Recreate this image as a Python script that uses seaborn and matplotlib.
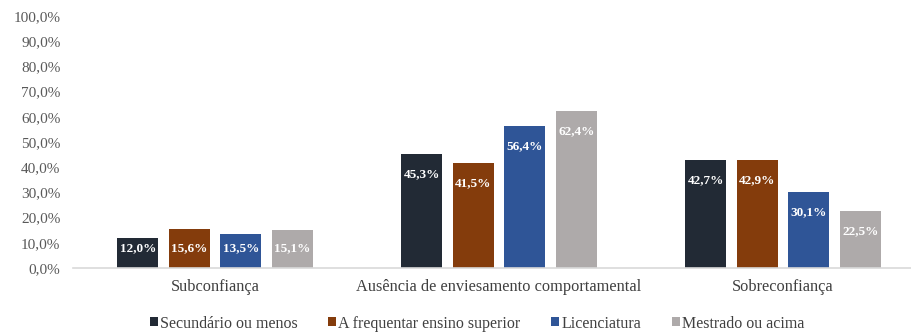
import matplotlib
matplotlib.use("Agg")
import matplotlib.pyplot as plt
from matplotlib.patches import Patch
import seaborn as sns
import pandas as pd

categorias = ["Subconfiança", "Ausência de enviesamento comportamental", "Sobreconfiança"]
grupos = ["Secundário ou menos", "A frequentar ensino superior", "Licenciatura", "Mestrado ou acima"]
secundario = [12.0, 45.3, 42.7]
frequentar = [15.6, 41.5, 42.9]
licenciatura = [13.5, 56.4, 30.1]
mestrado = [15.1, 62.4, 22.5]
cores = ["#222a35", "#843c0c", "#2f5597", "#aeaaaa"]
yticks = [0, 10, 20, 30, 40, 50, 60, 70, 80, 90, 100]

series = [secundario, frequentar, licenciatura, mestrado]
df = pd.DataFrame(
    [(c, g, v) for g, vals in zip(grupos, series) for c, v in zip(categorias, vals)],
    columns=["categoria", "grupo", "valor"],
)

sns.set_theme(style="white")
plt.rcParams["font.family"] = ["Liberation Serif", "DejaVu Serif"]
serif = ["Liberation Serif", "DejaVu Serif"]

fig = plt.figure(figsize=(9.12, 3.36), dpi=100)
ax = fig.add_axes([73 / 912, 68 / 336, 852 / 912, 252 / 336])

sns.barplot(data=df, x="categoria", y="valor", hue="grupo", order=categorias,
            hue_order=grupos, palette=cores, saturation=1, width=0.725, gap=0.2,
            edgecolor="none", ax=ax, legend=False)

ax.set_xlim(-0.5, 2.5)
ax.set_ylim(0, 100)
ax.set_yticks(yticks)
ax.set_yticklabels([f"{t:.1f}%".replace(".", ",") for t in yticks],
                   color="#595959", fontsize=11, family=serif)
ax.tick_params(axis="y", length=0, pad=9)
ax.tick_params(axis="x", which="major", length=0, pad=8, labelsize=11.75, labelcolor="#404040")
for lbl in ax.get_xticklabels():
    lbl.set_family(serif)
ax.set_xticks([-0.5, 0.5, 1.5], minor=True)
ax.tick_params(axis="x", which="minor", length=4, color="#d9d9d9", width=1)
ax.set_xlabel("")
ax.set_ylabel("")
for s in ["top", "right", "left"]:
    ax.spines[s].set_visible(False)
ax.spines["bottom"].set_color("#d9d9d9")
ax.spines["bottom"].set_linewidth(1.2)
ax.grid(False)

# value labels inside the top of each bar
for cont, vals in zip(ax.containers, series):
    for bar, v in zip(cont, vals):
        y = max(v - 7.9, 7.9)
        ax.text(bar.get_x() + bar.get_width() / 2, y, f"{v:.1f}%".replace(".", ","),
                ha="center", va="center", color="white", fontsize=9.5,
                fontweight="bold", family=serif)

handles = [Patch(facecolor=c, edgecolor="none") for c in cores]
fig.legend(handles, grupos, loc="center", bbox_to_anchor=(0.523, 0.037), ncol=4,
           frameon=False, prop={"family": serif, "size": 11.5},
           handlelength=0.5, handleheight=0.5,
           handletextpad=0.15, columnspacing=1.9, labelcolor="#404040")

fig.savefig("out.png", dpi=100)
